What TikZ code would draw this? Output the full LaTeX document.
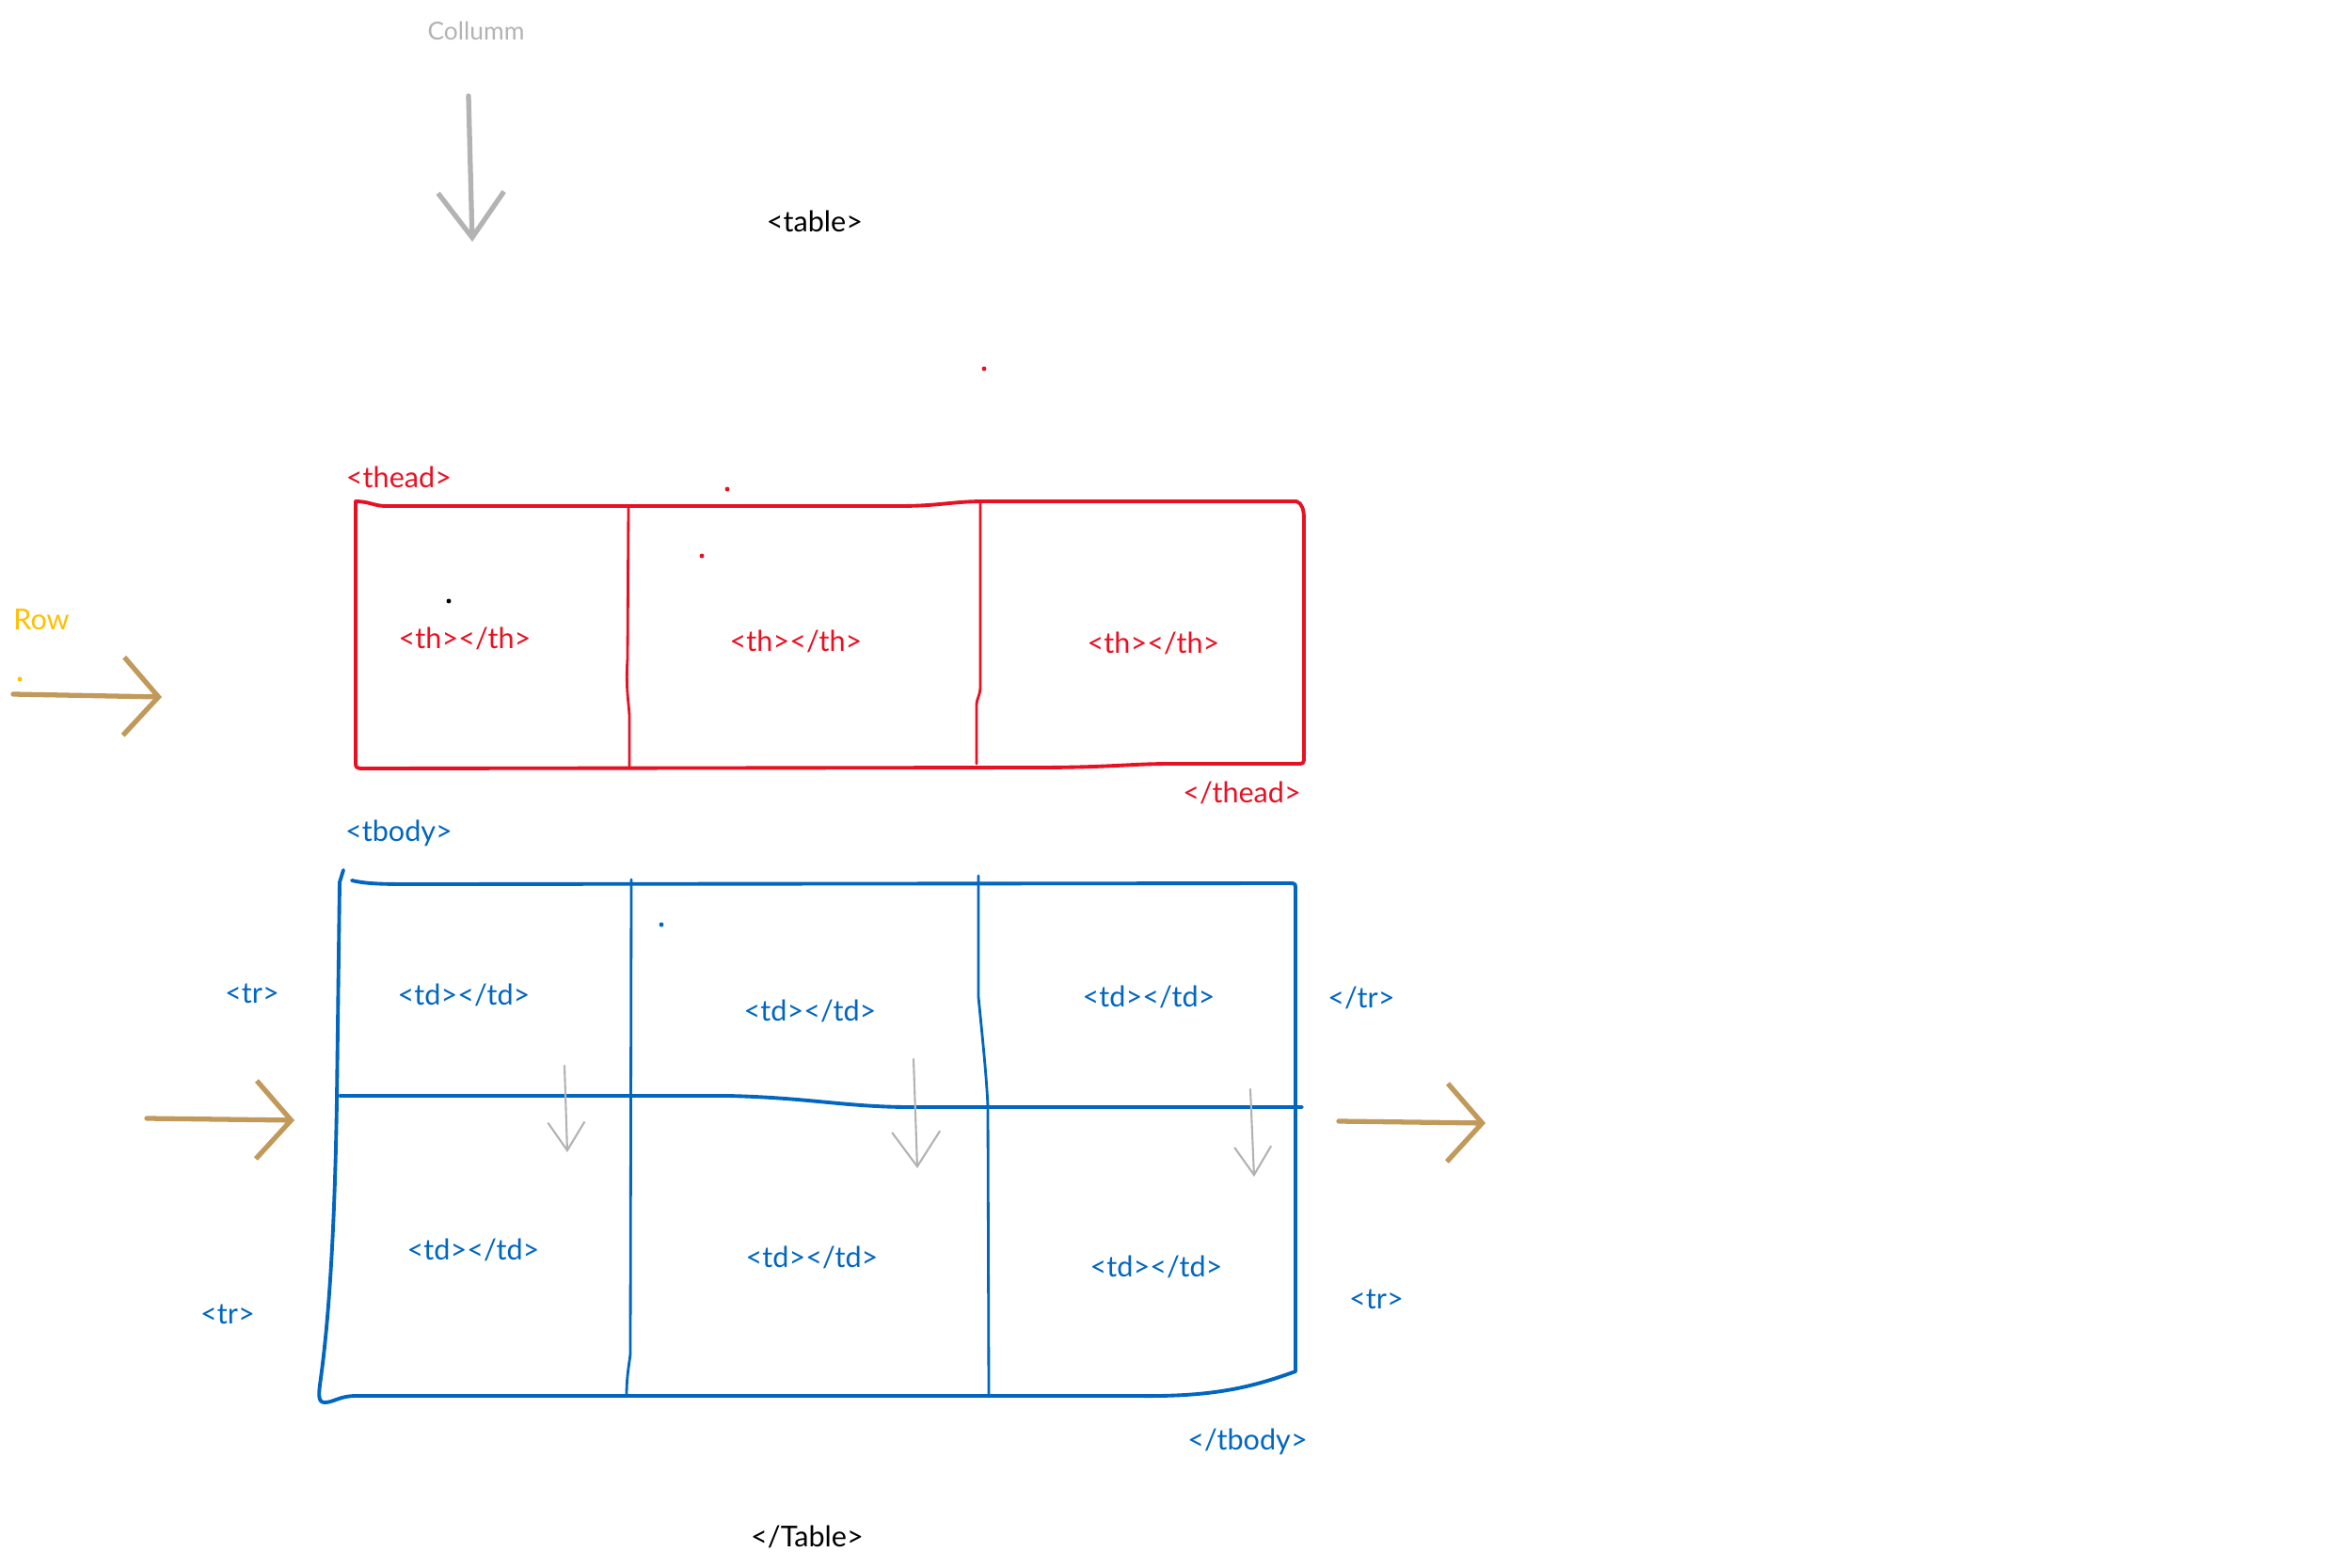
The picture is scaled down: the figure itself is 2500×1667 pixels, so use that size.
\documentclass[tikz,border=0pt]{standalone}
\usepackage{fontspec}
\setmainfont{Lato}
\usepackage{tikz}
\usetikzlibrary{arrows.meta, positioning}
\definecolor{headred}{HTML}{E81123}
\definecolor{bodyblue}{HTML}{0066C0}
\definecolor{rowtan}{HTML}{C19A5B}
\definecolor{rowgold}{HTML}{FFC000}
\definecolor{colgray}{HTML}{B3B3B3}

\begin{document}
\begin{tikzpicture}[
    x=0.01cm, y=-0.01cm,
    tag/.style={inner sep=1pt, font=\fontsize{8.7}{10}\selectfont},
    headtag/.style={tag, text=headred},
    bodytag/.style={tag, text=bodyblue},
    headline/.style={draw=headred, line width=1.1pt, line cap=round, line join=round},
    bodyline/.style={draw=bodyblue, line width=1.1pt, line cap=round, line join=round},
    divider/.style={line width=0.8pt},
    rowarrow/.style={draw=rowtan, line width=1.5pt, line cap=round, -{Straight Barb[length=0.37cm, width=0.83cm]}},
    colarrow/.style={draw=colgray, line width=0.6pt, line cap=round}
]
    \fill[white] (0,0) rectangle (2500,1667);
    \useasboundingbox (0,0) rectangle (2500,1667);

    % Labels outside the table
    \node[tag, text=colgray, font=\fontsize{7.5}{9}\selectfont] (col_label) at (506,33) {Collumm};
    \node[tag] (table_open) at (866,235) {<table>};
    \node[tag] (table_close) at (858,1634) {</Table>};
    \node[tag, text=rowgold] (row_label) at (44,659) {Row};

    % thead labels
    \node[headtag] (thead_open) at (424,507) {<thead>};
    \node[headtag] (th_a) at (494,679) {<th></th>};
    \node[headtag] (th_b) at (846,682) {<th></th>};
    \node[headtag] (th_c) at (1226,684) {<th></th>};
    \node[headtag] (thead_close) at (1320,843) {</thead>};

    % tbody labels
    \node[bodytag] (tbody_open) at (424,886) {<tbody>};
    \node[bodytag] (tr_a_open) at (268,1056) {<tr>};
    \node[bodytag] (td_a1) at (493,1058) {<td></td>};
    \node[bodytag] (td_a2) at (861,1075) {<td></td>};
    \node[bodytag] (td_a3) at (1221,1060) {<td></td>};
    \node[bodytag] (tr_a_close) at (1447,1061) {</tr>};
    \node[bodytag] (td_b1) at (503,1329) {<td></td>};
    \node[bodytag] (td_b2) at (863,1337) {<td></td>};
    \node[bodytag] (td_b3) at (1229,1347) {<td></td>};
    \node[bodytag] (tr_b_open) at (242,1397) {<tr>};
    \node[bodytag] (tr_b_close) at (1463,1381) {<tr>};
    \node[bodytag] (tbody_close) at (1326,1533) {</tbody>};

    % thead box
    \draw[headline] (378,533) .. controls (392,533) and (398,538) .. (410,538) -- (955,538)
        .. controls (1000,538) and (1010,533) .. (1048,533) -- (1378,533)
        .. controls (1384,535) and (1386,542) .. (1386,552) -- (1386,808)
        .. controls (1386,811) and (1385,812) .. (1380,812) -- (1245,812)
        .. controls (1200,812) and (1180,816) .. (1100,816) -- (385,817)
        .. controls (380,817) and (378,816) .. (378,812) -- cycle;
    \draw[headline, divider] (668,538) -- (667,700) .. controls (665,730) and (668,745) .. (669,760) -- (669,817);
    \draw[headline, divider] (1042,533) -- (1042,730) .. controls (1042,740) and (1038,742) .. (1038,750) -- (1038,812);

    % tbody box
    \draw[bodyline] (374,936) .. controls (390,940) and (410,940) .. (442,940) -- (1374,939)
        .. controls (1377,939) and (1377,941) .. (1377,944) -- (1377,1458)
        .. controls (1330,1475) and (1290,1485) .. (1210,1484) -- (379,1484)
        .. controls (360,1484) and (355,1491) .. (345,1491)
        .. controls (337,1491) and (339,1480) .. (341,1465)
        .. controls (350,1400) and (356,1300) .. (358,1170) -- (361,938) -- (365,925);
    \draw[bodyline, divider] (671,935) -- (670,1440) .. controls (668,1455) and (666,1465) .. (666,1484);
    \draw[bodyline, divider] (1040,931) -- (1040,1060) .. controls (1045,1110) and (1049,1150) .. (1050,1177) -- (1051,1485);
    \draw[bodyline] (361,1165) -- (774,1165) .. controls (860,1167) and (900,1177) .. (968,1177) -- (1384,1177);

    % Column arrows
    \coordinate (col_top) at (498,102);
    \coordinate (col_tip) at (502,257);
    \draw[colarrow, line width=1.5pt, -{Straight Barb[length=0.48cm, width=0.7cm]}] (col_top) -- (col_tip);
    \coordinate (col_a_top) at (600,1133);
    \coordinate (col_a_tip) at (603,1225);
    \coordinate (col_b_top) at (971,1126);
    \coordinate (col_b_tip) at (975,1242);
    \coordinate (col_c_top) at (1329,1158);
    \coordinate (col_c_tip) at (1333,1251);
    \draw[colarrow, -{Straight Barb[length=0.3cm, width=0.39cm]}] (col_a_top) -- (col_a_tip);
    \draw[colarrow, -{Straight Barb[length=0.37cm, width=0.51cm]}] (col_b_top) -- (col_b_tip);
    \draw[colarrow, -{Straight Barb[length=0.3cm, width=0.39cm]}] (col_c_top) -- (col_c_tip);

    % Row arrows
    \coordinate (row_top_start) at (14,738);
    \coordinate (row_top_tip) at (172,741);
    \coordinate (row_left_start) at (156,1189);
    \coordinate (row_left_tip) at (313,1191);
    \coordinate (row_right_start) at (1423,1192);
    \coordinate (row_right_tip) at (1579,1194);
    \draw[rowarrow] (row_top_start) -- (row_top_tip);
    \draw[rowarrow] (row_left_start) -- (row_left_tip);
    \draw[rowarrow] (row_right_start) -- (row_right_tip);

    % stray specks
    \fill[headred] (1046,392) circle (0.7pt);
    \fill[headred] (773,520) circle (0.7pt);
    \fill[headred] (746,591) circle (0.7pt);
    \fill[black] (477,639) circle (0.7pt);
    \fill[rowgold] (21,722) circle (0.7pt);
    \fill[bodyblue] (703,983) circle (0.7pt);
\end{tikzpicture}
\end{document}
